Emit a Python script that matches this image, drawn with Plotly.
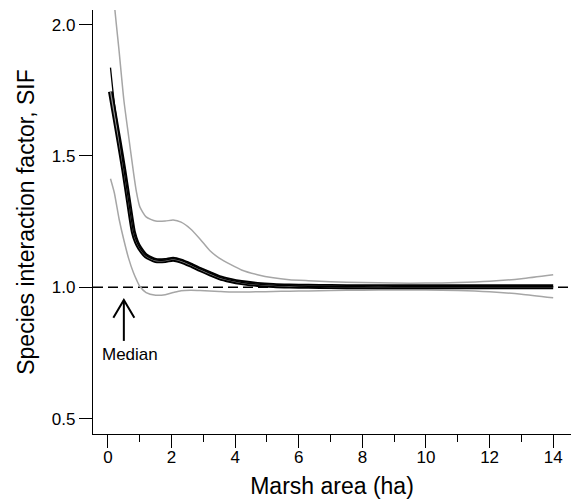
import plotly.graph_objects as go

# Marsh area (ha)
area = [0.08, 0.2, 0.35, 0.5, 0.65, 0.8, 0.9, 1.0, 1.2, 1.5, 1.8, 2.05, 2.3, 2.6, 2.9,
        3.2, 3.5, 3.85, 4.2, 4.7, 5.2, 5.7, 6.3, 7, 8, 9, 10, 11, 12, 13, 14]

# Mean species interaction factor (thick black line)
sif_mean = [1.745, 1.66, 1.555, 1.445, 1.325, 1.21, 1.172, 1.149, 1.119, 1.102, 1.102, 1.107,
            1.100, 1.085, 1.068, 1.052, 1.037, 1.026, 1.018, 1.011, 1.007, 1.005, 1.004,
            1.003, 1.002, 1.002, 1.002, 1.002, 1.002, 1.002, 1.002]

# Alternative estimate (thin black line)
sif_alt = [1.836, 1.70, 1.575, 1.452, 1.33, 1.213, 1.175, 1.151, 1.121, 1.104, 1.104, 1.109,
           1.102, 1.087, 1.070, 1.054, 1.039, 1.027, 1.019, 1.012, 1.008, 1.006, 1.004,
           1.003, 1.002, 1.002, 1.002, 1.002, 1.002, 1.002, 1.002]

# Upper and lower confidence limits (grey lines)
sif_upper = [2.30, 2.08, 1.90, 1.713, 1.575, 1.44, 1.36, 1.307, 1.268, 1.252, 1.252, 1.256,
             1.248, 1.222, 1.183, 1.140, 1.111, 1.087, 1.066, 1.048, 1.036, 1.029, 1.025,
             1.021, 1.018, 1.016, 1.016, 1.018, 1.023, 1.033, 1.048]
sif_lower = [1.413, 1.36, 1.26, 1.18, 1.11, 1.056, 1.028, 1.004, 0.980, 0.970, 0.972, 0.980,
             0.987, 0.989, 0.988, 0.986, 0.984, 0.982, 0.982, 0.983, 0.984, 0.985, 0.986,
             0.988, 0.989, 0.990, 0.990, 0.988, 0.983, 0.974, 0.960]

x_ticks = [0, 2, 4, 6, 8, 10, 12, 14]
y_ticks = [0.5, 1.0, 1.5, 2.0]
median_area = 0.5

FONT = "Liberation Sans, Arial, Helvetica, sans-serif"

fig = go.Figure()
common = dict(mode="lines", line_shape="spline", hoverinfo="skip", showlegend=False)
fig.add_trace(go.Scatter(x=area, y=sif_upper, line=dict(color="#a6a6a6", width=1.5, smoothing=0.6), **common))
fig.add_trace(go.Scatter(x=area, y=sif_lower, line=dict(color="#a6a6a6", width=1.5, smoothing=0.6), **common))
fig.add_trace(go.Scatter(x=area, y=sif_mean, line=dict(color="black", width=5, smoothing=0.6), **common))
fig.add_trace(go.Scatter(x=area, y=sif_mean, line=dict(color="#8c8c8c", width=1.3, smoothing=0.6), **common))
fig.add_trace(go.Scatter(x=area, y=sif_alt, line=dict(color="black", width=1.3, smoothing=0.6), **common))

# Reference line at SIF = 1
fig.add_shape(type="line", xref="paper", x0=0, x1=0.995, yref="y", y0=1.0, y1=1.0,
              line=dict(color="black", width=1.5, dash="10px,5px"), layer="below")

# Median arrow
fig.add_shape(type="line", x0=median_area, x1=median_area, y0=0.796, y1=0.952,
              line=dict(color="black", width=2))
fig.add_shape(type="path",
              path=f"M {median_area-0.33},0.884 L {median_area},0.952 L {median_area+0.33},0.884",
              line=dict(color="black", width=2))
fig.add_annotation(x=median_area + 0.18, y=0.743, text="Median", showarrow=False,
                   font=dict(family=FONT, size=17, color="black"))

fig.update_layout(
    width=571, height=499,
    margin=dict(l=93, r=0, t=10, b=65, autoexpand=False),
    plot_bgcolor="white", paper_bgcolor="white",
    font=dict(family=FONT, size=17, color="black"),
)
fig.update_xaxes(
    range=[-0.47, 14.56], tickvals=x_ticks, ticktext=[str(v) for v in x_ticks],
    showline=True, linecolor="black", linewidth=1.3,
    ticks="outside", ticklen=13, tickwidth=1.3, tickcolor="black",
    minor=dict(dtick=1, tick0=0, ticks="outside", ticklen=7, tickwidth=1.3, tickcolor="black"),
    showgrid=False, zeroline=False,
    title=dict(text="Marsh area (ha)", font=dict(size=23), standoff=12),
    tickfont=dict(size=17), ticklabelstandoff=-6,
)
fig.update_yaxes(
    range=[0.4416, 2.0555], tickvals=y_ticks, ticktext=["0.5", "1.0", "1.5", "2.0"],
    showline=True, linecolor="black", linewidth=1.3,
    ticks="outside", ticklen=13, tickwidth=1.3, tickcolor="black",
    showgrid=False, zeroline=False,
    title=dict(text="Species interaction factor, SIF", font=dict(size=23), standoff=10),
    tickfont=dict(size=17),
)

fig.write_html("out.html", config={"displayModeBar": False},
               post_script="document.body.style.margin='0';document.body.style.overflow='hidden';")
